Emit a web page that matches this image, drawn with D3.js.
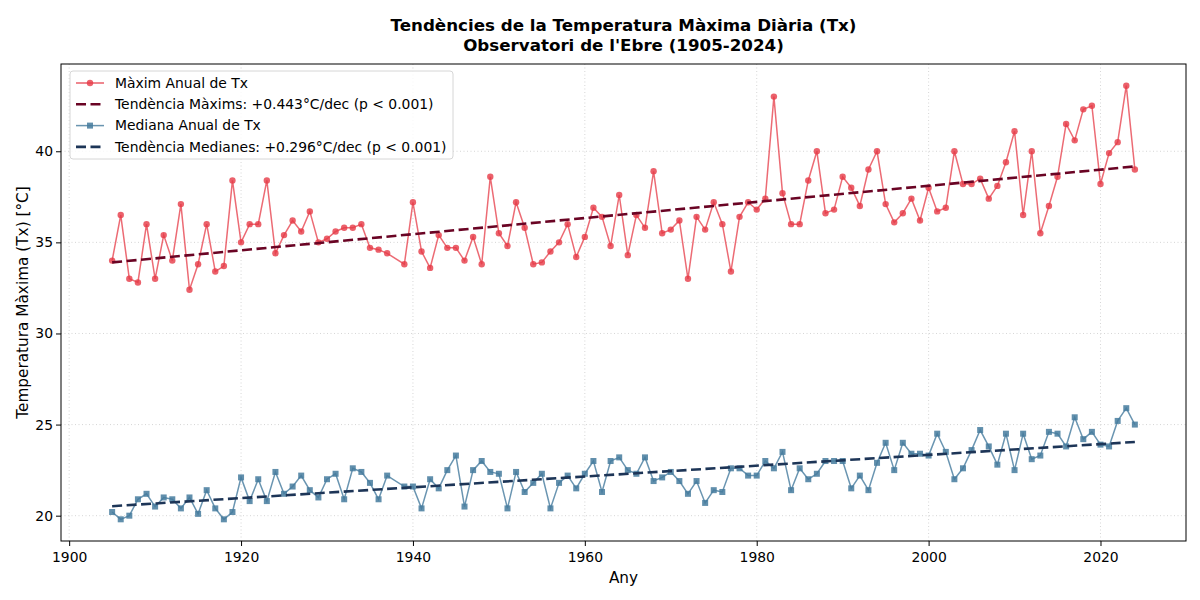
<!DOCTYPE html>
<head>
  <meta charset="utf-8">
  <script src="https://d3js.org/d3.v7.min.js"></script>
  <style>
    body { margin: 0; background: #fff; }
    text { font-family: "DejaVu Sans", sans-serif; fill: #000; }
  </style>
</head>
<body>

<div id="my_dataviz"></div>

<script>

  // years (1938 missing in the record)
  var years = d3.range(1905, 1938).concat(d3.range(1939, 2025));

  // annual maximum of Tx
  var maxTx = [34.0, 36.5, 33.0, 32.8, 36.0, 33.0, 35.4, 34.0, 37.1, 32.4,
               33.8, 36.0, 33.4, 33.7, 38.4, 35.0, 36.0, 36.0, 38.4, 34.4,
               35.4, 36.2, 35.6, 36.7, 35.0, 35.2, 35.6, 35.8, 35.8, 36.0,
               34.7, 34.6, 34.4,
               33.8, 37.2, 34.5, 33.6, 35.4, 34.7, 34.7, 34.0, 35.3, 33.8,
               38.6, 35.5, 34.8, 37.2, 35.8, 33.8, 33.9, 34.5, 35.0, 36.0,
               34.2, 35.3, 36.9, 36.4, 34.8, 37.6, 34.3, 36.5, 35.8, 38.9,
               35.5, 35.7, 36.2, 33.0, 36.4, 35.7, 37.2, 36.0, 33.4, 36.4,
               37.2, 36.8, 37.4, 43.0, 37.7, 36.0, 36.0, 38.4, 40.0, 36.6,
               36.8, 38.6, 38.0, 37.0, 39.0, 40.0, 37.1, 36.1, 36.6, 37.4,
               36.2, 38.0, 36.7, 36.9, 40.0, 38.2, 38.2, 38.5, 37.4, 38.1,
               39.4, 41.1, 36.5, 40.0, 35.5, 37.0, 38.6, 41.5, 40.6, 42.3,
               42.5, 38.2, 39.9, 40.5, 43.6, 39.0];

  // annual median of Tx
  var medTx = [20.2, 19.8, 20.0, 20.9, 21.2, 20.5, 21.0, 20.9, 20.4, 21.0,
               20.1, 21.4, 20.4, 19.8, 20.2, 22.1, 20.8, 22.0, 20.8, 22.4,
               21.2, 21.6, 22.2, 21.4, 21.0, 22.0, 22.3, 20.9, 22.6, 22.4,
               21.8, 20.9, 22.2,
               21.6, 21.6, 20.4, 22.0, 21.5, 22.5, 23.3, 20.5, 22.5, 23.0,
               22.4, 22.3, 20.4, 22.4, 21.3, 21.8, 22.3, 20.4, 21.8, 22.2,
               21.5, 22.3, 23.0, 21.3, 23.0, 23.2, 22.5, 22.3, 23.2, 21.9,
               22.1, 22.4, 21.9, 21.2, 21.9, 20.7, 21.4, 21.3, 22.6, 22.6,
               22.2, 22.2, 23.0, 22.6, 23.5, 21.4, 22.6, 22.0, 22.3, 23.0,
               23.0, 23.0, 21.5, 22.2, 21.4, 22.9, 24.0, 22.5, 24.0, 23.4,
               23.4, 23.3, 24.5, 23.5, 22.0, 22.6, 23.6, 24.7, 23.8, 22.8,
               24.5, 22.5, 24.5, 23.1, 23.3, 24.6, 24.5, 23.8, 25.4, 24.2,
               24.6, 23.9, 23.8, 25.2, 25.9, 25.0];

  var xTicks = [1900, 1920, 1940, 1960, 1980, 2000, 2020];
  var yTicks = [20, 25, 30, 35, 40];

  var titleLines = ["Tendències de la Temperatura Màxima Diària (Tx)",
                    "Observatori de l'Ebre (1905-2024)"];
  var legendLabels = ["Màxim Anual de Tx",
                      "Tendència Màxims: +0.443°C/dec (p < 0.001)",
                      "Mediana Anual de Tx",
                      "Tendència Medianes: +0.296°C/dec (p < 0.001)"];

  var colMax = "#e63946", colMaxTrend = "#6a0424",
      colMed = "#457b9d", colMedTrend = "#1d3557";

  // set the dimensions and margins of the graph
  var margin = {top: 64, right: 14, bottom: 59, left: 61},
    width = 1200 - margin.left - margin.right,
    height = 600 - margin.top - margin.bottom;

  var svg = d3.select("#my_dataviz")
  .append("svg")
    .attr("width", 1200)
    .attr("height", 600);

  var g = svg.append("g")
    .attr("transform", "translate(" + margin.left + "," + margin.top + ")");

  // least squares fit
  function fit(xs, ys) {
    var mx = d3.mean(xs), my = d3.mean(ys), sxy = 0, sxx = 0;
    xs.forEach(function(x, i) { sxy += (x - mx) * (ys[i] - my); sxx += (x - mx) * (x - mx); });
    var b = sxy / sxx;
    return function(x) { return my + b * (x - mx); };
  }
  var trendMax = fit(years, maxTx), trendMed = fit(years, medTx);

  // scales with 5% padding like matplotlib
  var xExt = d3.extent(years), xPad = (xExt[1] - xExt[0]) * 0.05;
  var allY = maxTx.concat(medTx);
  var yExt = d3.extent(allY), yPad = (yExt[1] - yExt[0]) * 0.05;

  var x = d3.scaleLinear()
    .domain([xExt[0] - xPad, xExt[1] + xPad])
    .range([0, width]);
  var y = d3.scaleLinear()
    .domain([yExt[0] - yPad, yExt[1] + yPad])
    .range([height, 0]);

  // grid
  g.append("g").selectAll("line").data(xTicks).enter().append("line")
    .attr("x1", function(d) { return x(d); }).attr("x2", function(d) { return x(d); })
    .attr("y1", 0).attr("y2", height)
    .style("stroke", "#cccccc").style("stroke-width", 0.8).style("stroke-dasharray", "1,2.5");
  g.append("g").selectAll("line").data(yTicks).enter().append("line")
    .attr("y1", function(d) { return y(d); }).attr("y2", function(d) { return y(d); })
    .attr("x1", 0).attr("x2", width)
    .style("stroke", "#cccccc").style("stroke-width", 0.8).style("stroke-dasharray", "1,2.5");

  var line = d3.line()
    .x(function(d) { return x(d[0]); })
    .y(function(d) { return y(d[1]); });

  var maxData = years.map(function(yr, i) { return [yr, maxTx[i]]; });
  var medData = years.map(function(yr, i) { return [yr, medTx[i]]; });

  // maxima series
  g.append("path").datum(maxData)
    .attr("d", line)
    .style("fill", "none").style("stroke", colMax).style("stroke-width", 1.5).style("opacity", 0.75);
  g.append("g").selectAll("circle").data(maxData).enter().append("circle")
    .attr("cx", function(d) { return x(d[0]); })
    .attr("cy", function(d) { return y(d[1]); })
    .attr("r", 3.2)
    .style("fill", colMax).style("opacity", 0.8);

  // median series
  g.append("path").datum(medData)
    .attr("d", line)
    .style("fill", "none").style("stroke", colMed).style("stroke-width", 1.5).style("opacity", 0.8);
  g.append("g").selectAll("rect").data(medData).enter().append("rect")
    .attr("x", function(d) { return x(d[0]) - 3; })
    .attr("y", function(d) { return y(d[1]) - 3; })
    .attr("width", 6).attr("height", 6)
    .style("fill", colMed).style("opacity", 0.85);

  // trend lines
  var ends = [xExt[0], xExt[1]];
  g.append("path").datum(ends.map(function(v) { return [v, trendMax(v)]; }))
    .attr("d", line)
    .style("fill", "none").style("stroke", colMaxTrend).style("stroke-width", 2.6)
    .style("stroke-dasharray", "10,4.5");
  g.append("path").datum(ends.map(function(v) { return [v, trendMed(v)]; }))
    .attr("d", line)
    .style("fill", "none").style("stroke", colMedTrend).style("stroke-width", 2.6)
    .style("stroke-dasharray", "10,4.5");

  // axes
  var xAxis = g.append("g")
    .attr("transform", "translate(0," + height + ")")
    .call(d3.axisBottom(x).tickValues(xTicks).tickFormat(d3.format("d")).tickSizeInner(5).tickSizeOuter(0));
  var yAxis = g.append("g")
    .call(d3.axisLeft(y).tickValues(yTicks).tickFormat(d3.format("d")).tickSizeInner(5).tickSizeOuter(0));
  [xAxis, yAxis].forEach(function(a) {
    a.select(".domain").remove();
    a.selectAll(".tick line").style("stroke", "#000").style("stroke-width", 1);
    a.selectAll(".tick text").style("font-family", "DejaVu Sans").style("font-size", "13.9px").style("fill", "#000");
  });
  xAxis.selectAll(".tick text").attr("dy", "0.95em");

  // frame
  g.append("rect")
    .attr("width", width).attr("height", height)
    .style("fill", "none").style("stroke", "#000").style("stroke-width", 1);

  // axis labels
  svg.append("text")
    .attr("x", margin.left + width / 2).attr("y", 583)
    .attr("text-anchor", "middle").style("font-size", "15.3px")
    .text("Any");
  svg.append("text")
    .attr("transform", "translate(28," + (margin.top + height / 2) + ") rotate(-90)")
    .attr("text-anchor", "middle").style("font-size", "15.3px")
    .text("Temperatura Màxima (Tx) [°C]");

  // title
  svg.append("g").selectAll("text").data(titleLines).enter().append("text")
    .attr("x", margin.left + width / 2)
    .attr("y", function(d, i) { return 31 + i * 20; })
    .attr("text-anchor", "middle")
    .style("font-size", "16.7px").style("font-weight", "bold")
    .text(function(d) { return d; });

  // legend
  var leg = g.append("g").attr("transform", "translate(9,7)");
  leg.append("rect")
    .attr("width", 383).attr("height", 88).attr("rx", 3)
    .style("fill", "#fff").style("fill-opacity", 0.8)
    .style("stroke", "#d6d6d6").style("stroke-width", 1);
  var rows = leg.selectAll(".row").data(legendLabels).enter().append("g")
    .attr("transform", function(d, i) { return "translate(0," + (12 + i * 21.3) + ")"; });
  rows.append("line")
    .attr("x1", 6).attr("x2", 34).attr("y1", 0).attr("y2", 0)
    .style("stroke", function(d, i) { return [colMax, colMaxTrend, colMed, colMedTrend][i]; })
    .style("stroke-width", function(d, i) { return i % 2 ? 2.6 : 1.5; })
    .style("stroke-dasharray", function(d, i) { return i % 2 ? "10,4.5" : null; })
    .style("opacity", function(d, i) { return i % 2 ? 1 : 0.8; });
  rows.filter(function(d, i) { return i === 0; }).append("circle")
    .attr("cx", 20).attr("cy", 0).attr("r", 3.2).style("fill", colMax).style("opacity", 0.8);
  rows.filter(function(d, i) { return i === 2; }).append("rect")
    .attr("x", 17).attr("y", -3).attr("width", 6).attr("height", 6).style("fill", colMed).style("opacity", 0.85);
  rows.append("text")
    .attr("x", 45).attr("dy", "0.35em")
    .style("font-size", "13.9px")
    .text(function(d) { return d; });

</script>

</body>
